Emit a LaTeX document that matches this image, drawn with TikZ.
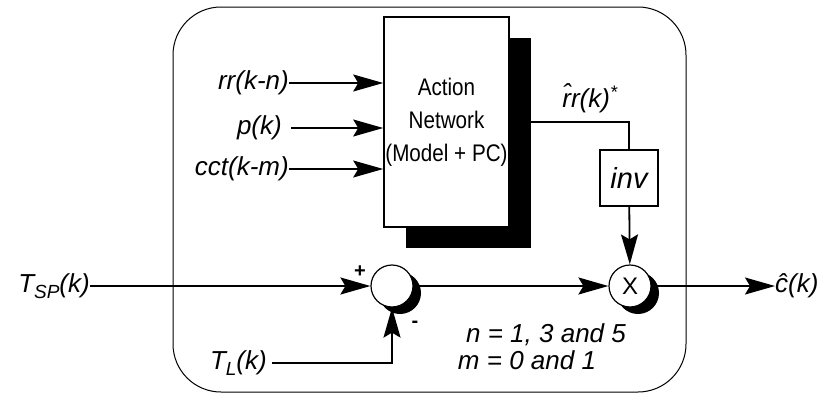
\documentclass[tikz,border=0pt]{standalone}
\usepackage{fontspec}
\setmainfont{Liberation Sans}
\newfontfamily\netfont[FakeStretch=0.86]{Liberation Sans}
\usetikzlibrary{arrows.meta,shadows}

\tikzset{
  sig/.style={line width=1.8pt, -{Stealth[length=30pt, width=17pt, inset=5pt]}},
  wire/.style={line width=1.8pt},
  netbox/.style={draw, line width=1.6pt, fill=white, minimum width=125pt,
    minimum height=210pt, align=center, inner sep=0pt,
    font=\netfont\fontsize{24}{33}\selectfont,
    drop shadow={shadow xshift=22pt, shadow yshift=-21pt, fill=black, opacity=1}},
  invbox/.style={draw, line width=1.4pt, fill=white, minimum width=58pt,
    minimum height=56pt, font=\fontsize{29}{30}\selectfont\itshape},
  junction/.style={circle, draw, line width=1.2pt, fill=white, minimum size=42pt,
    inner sep=0pt, font=\fontsize{24}{26}\selectfont\upshape,
    drop shadow={shadow xshift=8pt, shadow yshift=-7pt, fill=black, opacity=1}},
  sign/.style={font=\fontsize{20}{22}\selectfont\bfseries\upshape},
  lbl/.style={inner sep=0pt}
}

\begin{document}
\begin{tikzpicture}[x=1pt, y=-1pt,
    font=\fontsize{26}{30}\selectfont\itshape]
\useasboundingbox (0,0) rectangle (832,394);

% Frame
\draw[line width=1pt, rounded corners=48pt] (173,7) rectangle (686,392);

% Action network
\node[netbox] (act) at (446.5,122) {Action\\Network\\(Model + PC)};

% Inputs
\node[lbl, anchor=east] (rr) at (289,83) {rr(k-n)};
\node[lbl, anchor=east] (p) at (282,128) {p(k)};
\node[lbl, anchor=east] (cct) at (289,169) {cct(k-m)};
\draw[sig] (rr.east) -- (rr.east -| act.west);
\draw[sig] ([xshift=9pt]p.east) -- (p.east -| act.west);
\draw[sig] (cct.east) -- (cct.east -| act.west);

% Inverse
\node[invbox] (inv) at (629,178) {inv};
\node (rrhat) at (590,98) {\^{r}r(k)\textsuperscript{*}};
\draw[wire] (act.east) -| (inv.north);

% Summing and product junctions
\node[junction] (sum) at (392,286) {};
\node[junction] (mul) at (630,286) {X};
\node[sign] (plus) at (360,272) {+};
\node[sign] (minus) at (415,324) {-};

% Main path
\node[lbl, anchor=east] (tsp) at (90,286)
  {T{\fontsize{19}{20}\selectfont\raisebox{-6pt}{SP}}(k)};
\node[lbl, anchor=west] (chat) at (775,286) {ĉ(k)};
\draw[sig] (tsp) -- (sum);
\draw[sig] (sum) -- (mul);
\draw[sig] (inv) -- (mul);
\draw[sig] (mul) -- (chat);

% Load
\node[lbl, anchor=east] (tl) at (267,363)
  {T{\fontsize{19}{20}\selectfont\raisebox{-6pt}{L}}(k)};
\draw[sig] ([xshift=5pt]tl.east) -| (sum);

% Delays
\node (nval) at (546,335) {n = 1, 3 and 5};
\node (mval) at (527,360) {m = 0 and 1};

\end{tikzpicture}
\end{document}
